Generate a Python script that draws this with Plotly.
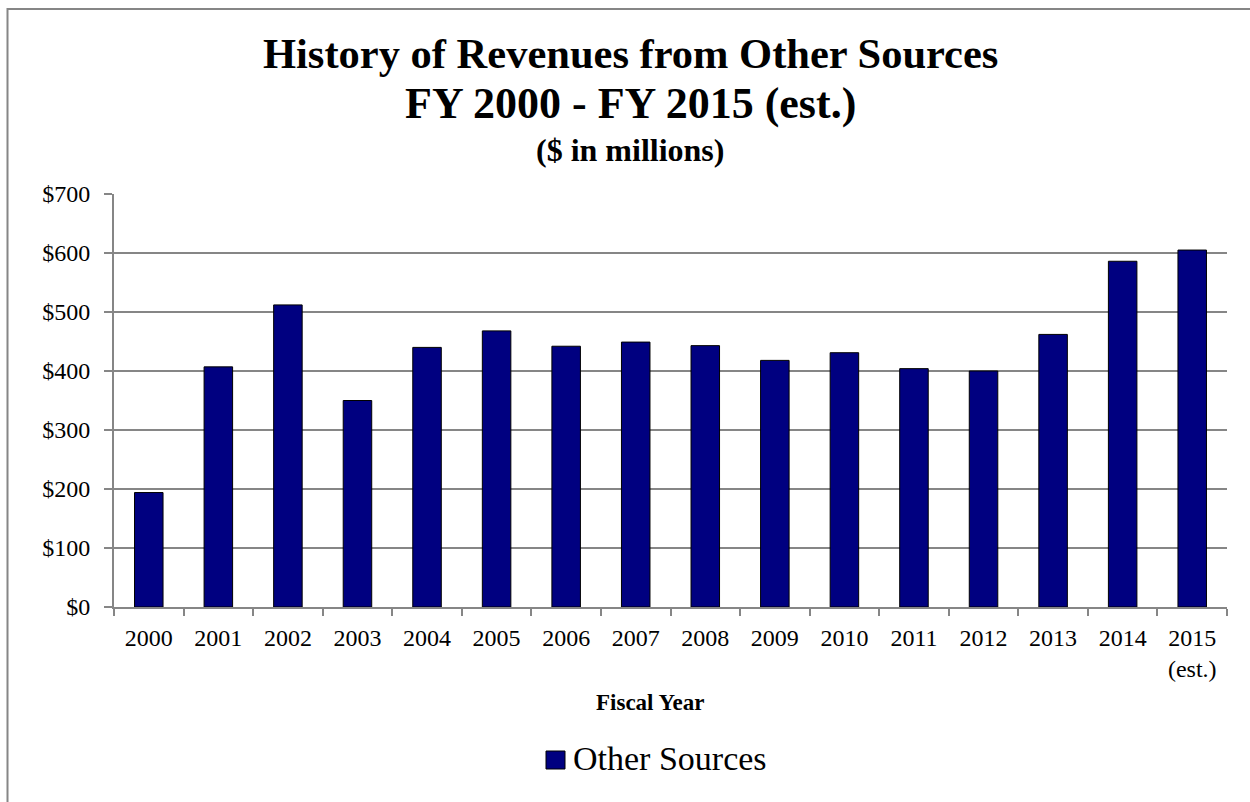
import plotly.graph_objects as go

# Fiscal years and revenues from other sources ($ millions)
years = ["2000", "2001", "2002", "2003", "2004", "2005", "2006", "2007",
         "2008", "2009", "2010", "2011", "2012", "2013", "2014", "2015"]
year_labels = years[:-1] + ["2015<br>(est.)"]
revenues = [194, 407, 512, 350, 440, 468, 442, 449,
            443, 418, 431, 404, 400, 462, 586, 605]
series_name = "Other Sources"

W, H = 1250, 802
ML, MR, MT, MB = 114, 23, 194, 195
PW, PH = W - ML - MR, H - MT - MB

NAVY = "#000080"
GRID = "#868686"
SERIF = "Liberation Serif, Times New Roman, serif"


def px_x(x):
    return (x - ML) / PW


def px_y(y):
    return (H - MB - y) / PH


fig = go.Figure(
    go.Bar(
        x=years,
        y=revenues,
        name=series_name,
        marker=dict(color=NAVY, line=dict(color="#000000", width=1)),
        width=0.41,
        showlegend=False,
    )
)

fig.update_layout(
    width=W,
    height=H,
    margin=dict(l=ML, r=MR, t=MT, b=MB),
    paper_bgcolor="white",
    plot_bgcolor="white",
    font=dict(family=SERIF, color="black"),
    xaxis=dict(
        type="category",
        tickmode="array",
        tickvals=years,
        ticktext=year_labels,
        tickson="boundaries",
        ticks="outside",
        ticklen=7,
        tickwidth=1.5,
        tickcolor=GRID,
        showline=True,
        linecolor=GRID,
        linewidth=2,
        showgrid=False,
        tickfont=dict(size=24, family=SERIF, color="black"),
        ticklabelstandoff=8,
        fixedrange=True,
    ),
    yaxis=dict(
        range=[0, 700],
        dtick=100,
        tickprefix="$",
        ticks="outside",
        ticklen=8,
        tickwidth=1.5,
        tickcolor=GRID,
        showline=True,
        linecolor=GRID,
        linewidth=2,
        showgrid=True,
        gridcolor=GRID,
        gridwidth=1.5,
        zeroline=False,
        tickfont=dict(size=24, family=SERIF, color="black"),
        ticklabelstandoff=9,
        fixedrange=True,
    ),
)

# Title block: three centred lines
title_lines = [
    ("<b>History of Revenues from Other Sources</b>", 42.5, 53.5),
    ("<b>FY 2000 - FY 2015 (est.)</b>", 44, 104),
    ("<b>($ in millions)</b>", 32, 150.5),
]
for text, size, yc in title_lines:
    fig.add_annotation(
        text=text, xref="paper", yref="paper",
        x=px_x(630), y=px_y(yc), xanchor="center", yanchor="middle",
        showarrow=False, font=dict(size=size, family=SERIF, color="black"),
    )

# Axis title
fig.add_annotation(
    text="<b>Fiscal Year</b>", xref="paper", yref="paper",
    x=px_x(650), y=px_y(702), xanchor="center", yanchor="middle",
    showarrow=False, font=dict(size=23, family=SERIF, color="black"),
)

# Legend key and label
fig.add_shape(
    type="rect", xref="paper", yref="paper",
    x0=px_x(546), x1=px_x(565), y0=px_y(769), y1=px_y(751),
    fillcolor=NAVY, line=dict(color="#000000", width=1),
)
fig.add_annotation(
    text=series_name, xref="paper", yref="paper",
    x=px_x(571), y=px_y(758.5), xanchor="left", yanchor="middle",
    showarrow=False, font=dict(size=34, family=SERIF, color="black"),
)

# Chart frame
fig.add_shape(
    type="rect", xref="paper", yref="paper",
    x0=px_x(7.5), x1=px_x(1262), y0=px_y(815), y1=px_y(9),
    line=dict(color=GRID, width=2), fillcolor="rgba(0,0,0,0)", layer="below",
)

fig.write_html("out.html", config={"displayModeBar": False})
